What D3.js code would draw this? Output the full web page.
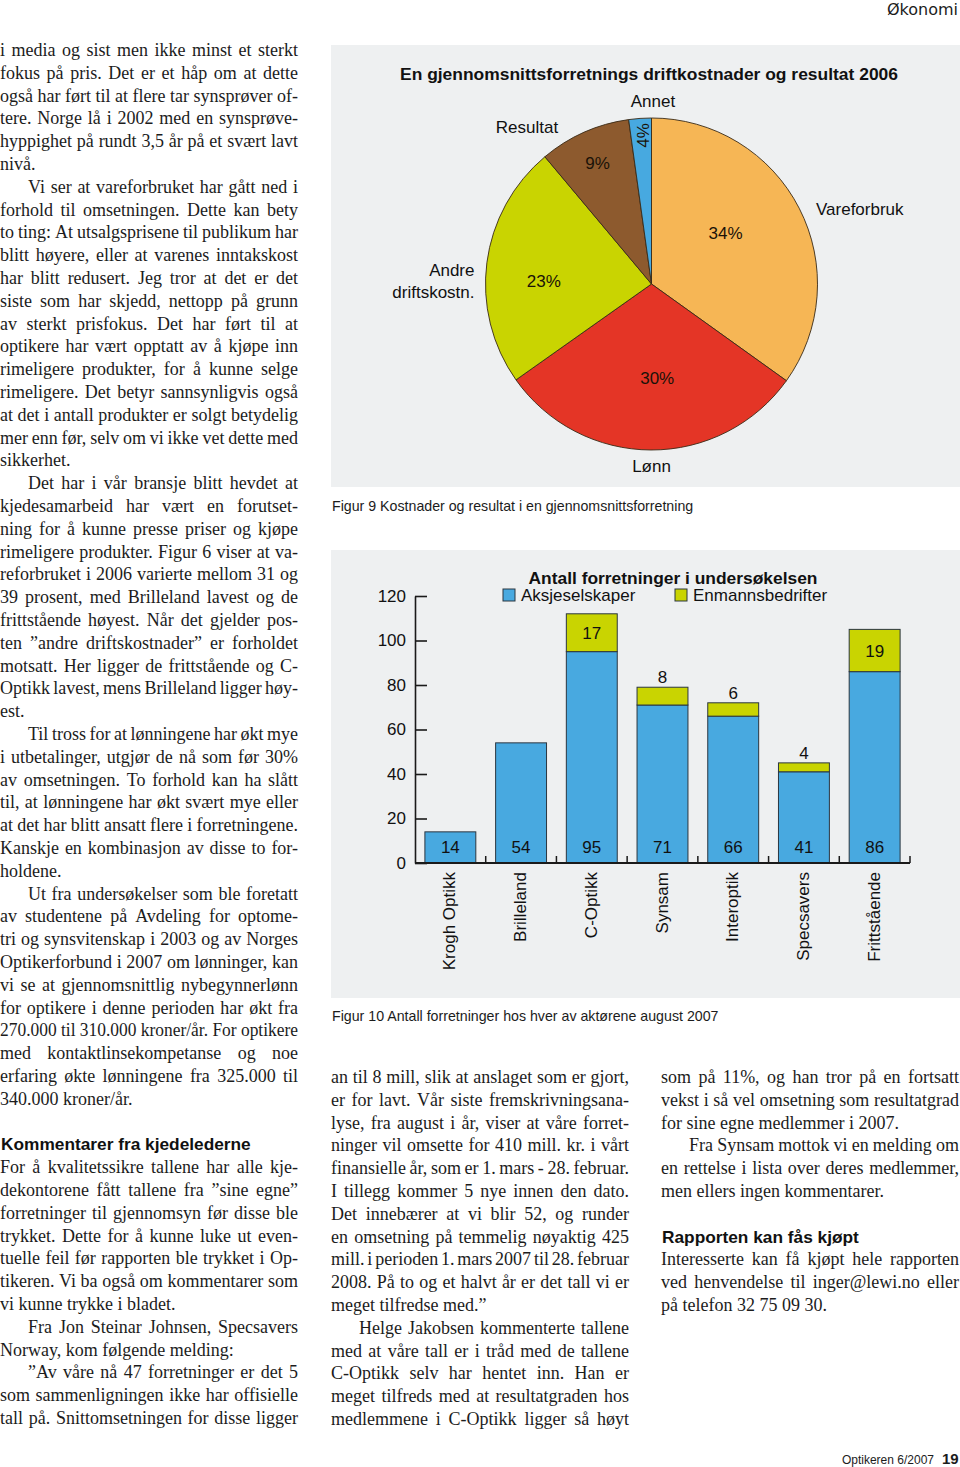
<!DOCTYPE html>
<html><head><meta charset="utf-8">
<script src="https://cdn.jsdelivr.net/npm/d3@7"></script>
<style>
html,body{margin:0;padding:0;background:#fff;}
svg{display:block;}
</style></head><body>
<svg id="page" width="960" height="1467"></svg>
<script>
// ---------------- DATA ----------------
const pieTitle = "En gjennomsnittsforretnings driftkostnader og resultat 2006";
const pieCaption = "Figur 9 Kostnader og resultat i en gjennomsnittsforretning";
const pieCategories = ["Vareforbruk", "Lønn", "Andre driftskostn.", "Resultat", "Annet"];
const pieShares = [34.9, 30.3, 23.7, 8.9, 2.2];          // shares as drawn
const piePercentLabels = ["34%", "30%", "23%", "9%", "4%"]; // printed labels

const barTitle = "Antall forretninger i undersøkelsen";
const barCaption = "Figur 10 Antall forretninger hos hver av aktørene august 2007";
const barCategories = ["Krogh Optikk", "Brilleland", "C-Optikk", "Synsam", "Interoptik", "Specsavers", "Frittstående"];
const barSeries = ["Aksjeselskaper", "Enmannsbedrifter"];
const aksjeselskaper = [14, 54, 95, 71, 66, 41, 86];
const enmannsbedrifter = [0, 0, 17, 8, 6, 4, 19];
const yTickValues = [0, 20, 40, 60, 80, 100, 120];

const headerText = "Økonomi";
const footerText = "Optikeren 6/2007";
const pageNumber = "19";

// '>' = indented first line, '|' = last line of paragraph, '#' = heading, '' = blank
const columnLeft = [
"i media og sist men ikke minst et sterkt",
"fokus på pris. Det er et håp om at dette",
"også har ført til at flere tar synsprøver of-",
"tere. Norge lå i 2002 med en synsprøve-",
"hyppighet på rundt 3,5 år på et svært lavt",
"nivå.|",
">Vi ser at vareforbruket har gått ned i",
"forhold til omsetningen. Dette kan bety",
"to ting: At utsalgsprisene til publikum har",
"blitt høyere, eller at varenes inntakskost",
"har blitt redusert. Jeg tror at det er det",
"siste som har skjedd, nettopp på grunn",
"av sterkt prisfokus. Det har ført til at",
"optikere har vært opptatt av å kjøpe inn",
"rimeligere produkter, for å kunne selge",
"rimeligere. Det betyr sannsynligvis også",
"at det i antall produkter er solgt betydelig",
"mer enn før, selv om vi ikke vet dette med",
"sikkerhet.|",
">Det har i vår bransje blitt hevdet at",
"kjedesamarbeid har vært en forutset-",
"ning for å kunne presse priser og kjøpe",
"rimeligere produkter. Figur 6 viser at va-",
"reforbruket i 2006 varierte mellom 31 og",
"39 prosent, med Brilleland lavest og de",
"frittstående høyest. Når det gjelder pos-",
"ten ”andre driftskostnader” er forholdet",
"motsatt. Her ligger de frittstående og C-",
"Optikk lavest, mens Brilleland ligger høy-",
"est.|",
">Til tross for at lønningene har økt mye",
"i utbetalinger, utgjør de nå som før 30%",
"av omsetningen. To forhold kan ha slått",
"til, at lønningene har økt svært mye eller",
"at det har blitt ansatt flere i forretningene.",
"Kanskje en kombinasjon av disse to for-",
"holdene.|",
">Ut fra undersøkelser som ble foretatt",
"av studentene på Avdeling for optome-",
"tri og synsvitenskap i 2003 og av Norges",
"Optikerforbund i 2007 om lønninger, kan",
"vi se at gjennomsnittlig nybegynnerlønn",
"for optikere i denne perioden har økt fra",
"270.000 til 310.000 kroner/år. For optikere",
"med kontaktlinsekompetanse og noe",
"erfaring økte lønningene fra 325.000 til",
"340.000 kroner/år.|",
"",
"#Kommentarer fra kjedelederne",
"For å kvalitetssikre tallene har alle kje-",
"dekontorene fått tallene fra ”sine egne”",
"forretninger til gjennomsyn før disse ble",
"trykket. Dette for å kunne luke ut even-",
"tuelle feil før rapporten ble trykket i Op-",
"tikeren. Vi ba også om kommentarer som",
"vi kunne trykke i bladet.|",
">Fra Jon Steinar Johnsen, Specsavers",
"Norway, kom følgende melding:|",
">”Av våre nå 47 forretninger er det 5",
"som sammenligningen ikke har offisielle",
"tall på. Snittomsetningen for disse ligger"
];
const columnMiddle = [
"an til 8 mill, slik at anslaget som er gjort,",
"er for lavt. Vår siste fremskrivningsana-",
"lyse, fra august i år, viser at våre forret-",
"ninger vil omsette for 410 mill. kr. i vårt",
"finansielle år, som er 1. mars - 28. februar.",
"I tillegg kommer 5 nye innen den dato.",
"Det innebærer at vi blir 52, og runder",
"en omsetning på temmelig nøyaktig 425",
"mill. i perioden 1. mars 2007 til 28. februar",
"2008. På to og et halvt år er det tall vi er",
"meget tilfredse med.”|",
">Helge Jakobsen kommenterte tallene",
"med at våre tall er i tråd med de tallene",
"C-Optikk selv har hentet inn. Han er",
"meget tilfreds med at resultatgraden hos",
"medlemmene i C-Optikk ligger så høyt"
];
const columnRight = [
"som på 11%, og han tror på en fortsatt",
"vekst i så vel omsetning som resultatgrad",
"for sine egne medlemmer i 2007.|",
">Fra Synsam mottok vi en melding om",
"en rettelse i lista over deres medlemmer,",
"men ellers ingen kommentarer.|",
"",
"#Rapporten kan fås kjøpt",
"Interesserte kan få kjøpt hele rapporten",
"ved henvendelse til inger@lewi.no eller",
"på telefon 32 75 09 30.|"
];

// ---------------- STYLE ----------------
const SANS = "'Liberation Sans', Arial, Helvetica, sans-serif";
const SERIF = "'Liberation Serif', 'Times New Roman', serif";
const INK = "#1c1c1c";
const PANEL = "#eef0f1";
const pieColors = ["#f6b655", "#e43526", "#c9d401", "#8d5a2e", "#47a9e0"];
const barColors = ["#48a9e0", "#c9d401"];

const svg = d3.select("#page");

// header / footer
svg.append("text").attr("x", 958).attr("y", 15).attr("text-anchor", "end")
  .attr("font-family", "'DejaVu Sans', Verdana, sans-serif").attr("font-size", 16)
  .attr("fill", INK).text(headerText);
svg.append("text").attr("x", 934).attr("y", 1464).attr("text-anchor", "end")
  .attr("font-family", SANS).attr("font-size", 12).attr("fill", INK).text(footerText);
svg.append("text").attr("x", 942).attr("y", 1464)
  .attr("font-family", SANS).attr("font-size", 15).attr("font-weight", "bold").attr("fill", INK).text(pageNumber);

// ---------------- PIE PANEL ----------------
svg.append("rect").attr("x", 331).attr("y", 45).attr("width", 629).attr("height", 442).attr("fill", PANEL);
svg.append("text").attr("x", 649).attr("y", 80).attr("text-anchor", "middle")
  .attr("font-family", SANS).attr("font-size", 17).attr("font-weight", "bold").attr("fill", "#111")
  .attr("textLength", 498).attr("lengthAdjust", "spacingAndGlyphs").text(pieTitle);
svg.append("text").attr("x", 332).attr("y", 511)
  .attr("font-family", SANS).attr("font-size", 14.2).attr("fill", INK).text(pieCaption);

const pieCx = 651.5, pieCy = 284, pieR = 166;
const pieG = svg.append("g").attr("transform", `translate(${pieCx},${pieCy})`);
const pieGen = d3.pie().sort(null).value(d => d.v);
const pieData = pieGen(pieCategories.map((c, i) => ({ c, v: pieShares[i], t: piePercentLabels[i] })));
const arcGen = d3.arc().innerRadius(0).outerRadius(pieR);
pieG.selectAll("path.slice").data(pieData).join("path").attr("class", "slice")
  .attr("d", arcGen).attr("fill", (d, i) => pieColors[i])
  .attr("stroke", "#3a2a16").attr("stroke-width", 0.9).attr("stroke-linejoin", "round");

const pctRadius = [90, 94, 107, 133, 149];
const pctNudge = [[-6, -10], [6, 0], [-1.5, 10.7], [0, 0], [2, 0]];
const pctRotate = [0, 0, 0, 0, -90];
pieData.forEach((d, i) => {
  const a = (d.startAngle + d.endAngle) / 2;
  const x = pctRadius[i] * Math.sin(a) + pctNudge[i][0];
  const y = -pctRadius[i] * Math.cos(a) + pctNudge[i][1];
  pieG.append("text").attr("transform", `translate(${x},${y}) rotate(${pctRotate[i]})`)
    .attr("text-anchor", "middle").attr("dy", "0.36em")
    .attr("font-family", SANS).attr("font-size", 17).attr("fill", "#1a1208").text(d.data.t);
});
const nameLayout = [
  { dx: 164.5, dy: -69, anchor: "start", split: false },
  { dx: 0, dy: 188, anchor: "middle", split: false },
  { dx: -177, dy: -8, anchor: "end", split: true },
  { dx: -124.5, dy: -151, anchor: "middle", split: false },
  { dx: 1.5, dy: -177, anchor: "middle", split: false }
];
pieData.forEach((d, i) => {
  const L = nameLayout[i];
  const parts = L.split ? d.data.c.split(" ") : [d.data.c];
  parts.forEach((p, k) => {
    pieG.append("text").attr("x", L.dx).attr("y", L.dy + k * 22)
      .attr("text-anchor", L.anchor).attr("font-family", SANS).attr("font-size", 17)
      .attr("fill", "#111").text(p);
  });
});

// ---------------- BAR PANEL ----------------
svg.append("rect").attr("x", 331).attr("y", 550).attr("width", 629).attr("height", 448).attr("fill", PANEL);
svg.append("text").attr("x", 332).attr("y", 1021)
  .attr("font-family", SANS).attr("font-size", 14.2).attr("fill", INK).text(barCaption);

const x = d3.scaleBand().domain(barCategories).range([415, 910]).paddingInner(0.28).paddingOuter(0.14);
const y = d3.scaleLinear().domain([0, 120]).range([863, 596]);

const rows = barCategories.map((c, i) => ({ c, a: aksjeselskaper[i], e: enmannsbedrifter[i] }));
const stack = d3.stack().keys(["a", "e"])(rows);

const barsG = svg.append("g");
stack.forEach((layer, li) => {
  barsG.selectAll(null).data(layer.filter(d => d[1] - d[0] > 0)).join("rect")
    .attr("x", d => x(d.data.c)).attr("width", x.bandwidth())
    .attr("y", d => y(d[1])).attr("height", d => y(d[0]) - y(d[1]))
    .attr("fill", barColors[li]).attr("stroke", "#2b3640").attr("stroke-width", 1);
});
// value labels
rows.forEach(r => {
  const cx = x(r.c) + x.bandwidth() / 2;
  barsG.append("text").attr("x", cx).attr("y", y(0) - 10).attr("text-anchor", "middle")
    .attr("font-family", SANS).attr("font-size", 17).attr("fill", "#111").text(r.a);
  if (r.e > 0) {
    const segH = y(r.a) - y(r.a + r.e);
    const ly = segH > 30 ? (y(r.a) + y(r.a + r.e)) / 2 + 6 : y(r.a + r.e) - 4;
    barsG.append("text").attr("x", cx).attr("y", ly).attr("text-anchor", "middle")
      .attr("font-family", SANS).attr("font-size", 17).attr("fill", "#111").text(r.e);
  }
});

// y axis
const yAxis = d3.axisLeft(y).tickValues(yTickValues).tickSize(-12).tickSizeOuter(0).tickPadding(9);
const yG = svg.append("g").attr("transform", "translate(415,0)").call(yAxis);
yG.select(".domain").attr("stroke", "#1a1a1a").attr("stroke-width", 1.6);
yG.selectAll(".tick line").attr("stroke", "#1a1a1a").attr("stroke-width", 1.6);
yG.selectAll(".tick text").attr("font-family", SANS).attr("font-size", 17).attr("fill", "#111");

// x axis
const xG = svg.append("g");
xG.append("line").attr("x1", x.range()[0]).attr("x2", x.range()[1]).attr("y1", y(0)).attr("y2", y(0))
  .attr("stroke", "#1a1a1a").attr("stroke-width", 1.8);
barCategories.forEach((c, i) => {
  const bx = x.range()[0] + x.step() * (i + 1);
  xG.append("line").attr("x1", bx).attr("x2", bx).attr("y1", y(0)).attr("y2", y(0) - 7)
    .attr("stroke", "#1a1a1a").attr("stroke-width", 1.5);
  xG.append("text").attr("transform", `translate(${x(c) + x.bandwidth() / 2 - 1},${y(0) + 9}) rotate(-90)`)
    .attr("text-anchor", "end").attr("dy", "0.36em")
    .attr("font-family", SANS).attr("font-size", 17).attr("fill", "#111").text(c);
});

// legend
svg.append("text").attr("x", 673).attr("y", 584).attr("text-anchor", "middle")
  .attr("font-family", SANS).attr("font-size", 17).attr("font-weight", "bold").attr("fill", "#111")
  .attr("textLength", 289).attr("lengthAdjust", "spacingAndGlyphs").text(barTitle);
const legendX = [503, 675];
barSeries.forEach((s, i) => {
  svg.append("rect").attr("x", legendX[i]).attr("y", 589).attr("width", 12).attr("height", 12)
    .attr("fill", barColors[i]).attr("stroke", "#2b3640").attr("stroke-width", 1);
  svg.append("text").attr("x", legendX[i] + 18).attr("y", 601)
    .attr("font-family", SANS).attr("font-size", 17).attr("fill", "#111").text(s);
});

// ---------------- BODY TEXT ----------------
const BODY_SIZE = 18;
const tmp = svg.append("text").attr("font-family", SERIF).attr("font-size", BODY_SIZE).attr("x", -999).attr("y", -999);
function wlen(t) { tmp.text(t); return tmp.node().getComputedTextLength(); }
const spaceW = wlen("a a") - wlen("aa");

function drawColumn(lines, x0, width, base0, pitch) {
  const g = svg.append("g");
  lines.forEach((raw, i) => {
    if (!raw) return;
    const yy = base0 + i * pitch;
    let s = raw;
    if (s.startsWith("#")) {
      g.append("text").attr("x", x0 + 1).attr("y", yy)
        .attr("font-family", SANS).attr("font-size", 17.3).attr("font-weight", "bold")
        .attr("fill", "#111").text(s.slice(1));
      return;
    }
    let indent = 0;
    if (s.startsWith(">")) { indent = 28; s = s.slice(1); }
    let justify = true;
    if (s.endsWith("|")) { justify = false; s = s.slice(0, -1); }
    const lx = x0 + indent, avail = width - indent;
    const base = () => g.append("text").attr("y", yy).attr("font-family", SERIF)
      .attr("font-size", BODY_SIZE).attr("fill", INK);
    if (!justify) { base().attr("x", lx).text(s); return; }
    const words = s.split(" ");
    const ws = words.map(wlen);
    const total = ws.reduce((a, b) => a + b, 0);
    const gap = words.length > 1 ? (avail - total) / (words.length - 1) : 0;
    if (words.length < 2 || gap < spaceW * 0.6) {
      base().attr("x", lx).attr("textLength", avail).attr("lengthAdjust", "spacingAndGlyphs").text(s);
      return;
    }
    let cx = lx;
    words.forEach((w, k) => { base().attr("x", cx).text(w); cx += ws[k] + gap; });
  });
}
drawColumn(columnLeft, 0, 298, 56, 22.8);
drawColumn(columnMiddle, 331, 298, 1083, 22.8);
drawColumn(columnRight, 661, 298, 1083, 22.8);
tmp.remove();
</script>
</body></html>
